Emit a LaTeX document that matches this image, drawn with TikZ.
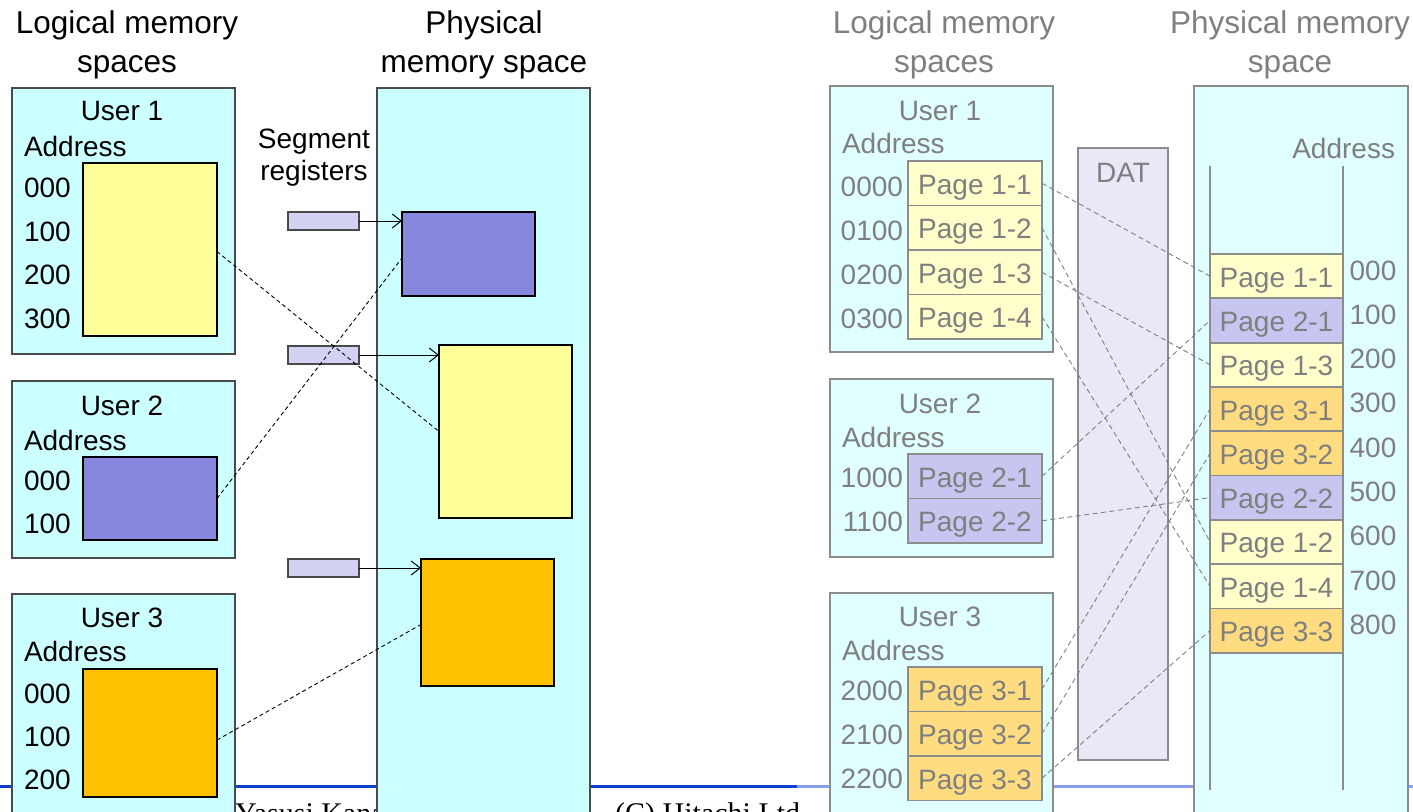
\documentclass[tikz,border=0pt]{standalone}
\usepackage{fontspec}
\setmainfont{Liberation Sans}
\newfontfamily\footfont{Liberation Serif}
\usetikzlibrary{arrows.meta,calc}
\definecolor{lcyan}{HTML}{CCFFFF}
\definecolor{lborder}{HTML}{4A4A4A}
\definecolor{lyellow}{HTML}{FFFF99}
\definecolor{lpurple}{HTML}{8787DD}
\definecolor{lorange}{HTML}{FFC000}
\definecolor{lreg}{HTML}{D2D2F2}
\definecolor{rcyan}{HTML}{E0FFFF}
\definecolor{rborder}{HTML}{8C8C8C}
\definecolor{rgray}{HTML}{7F7F7F}
\definecolor{ryellow}{HTML}{FFFFCC}
\definecolor{rpurple}{HTML}{C6C6F0}
\definecolor{rorange}{HTML}{FFDC80}
\definecolor{rdat}{HTML}{E8E8F6}
\definecolor{footblue}{HTML}{0B40CC}
\definecolor{footlight}{HTML}{86A0E6}
\tikzset{
  rectbase/.style={inner sep=0, outer sep=0, anchor=north west},
  lbig/.style={rectbase, draw=lborder, fill=lcyan, line width=1.2pt},
  lblock/.style={rectbase, draw=black, line width=2pt},
  lregbox/.style={rectbase, draw=lborder, fill=lreg, line width=1.2pt, minimum width=71, minimum height=18},
  rbig/.style={rectbase, draw=rborder, fill=rcyan, line width=1.2pt},
  rpage/.style={rectbase, draw=rborder, line width=1.8pt, minimum width=134, minimum height=44.5, font=\fontsize{28}{34}\selectfont, text=rgray, text height=22pt, text depth=0pt},
  ppage/.style={rpage, minimum width=133, minimum height=44.3},
  txt/.style={inner sep=0, outer sep=0, anchor=base, font=\fontsize{28}{34}\selectfont},
  ttl/.style={inner sep=0, outer sep=0, anchor=base, font=\fontsize{31.5}{39}\selectfont},
  rtxt/.style={txt, text=rgray},
  rttl/.style={ttl, text=rgray},
  ldash/.style={draw=black, line width=0.9pt, dash pattern=on 4pt off 3pt},
  rdash/.style={draw=rgray, line width=0.9pt, dash pattern=on 5pt off 3.5pt},
  regarrow/.style={draw=black, line width=1pt, -{Straight Barb[length=9pt,width=14pt]}}
}
\begin{document}
\begin{tikzpicture}[x=1pt,y=-1pt]
\useasboundingbox (0,0) rectangle (1413,811);
\clip (0,0) rectangle (1413,811);
% footer
\coordinate (fa) at (0,786);
\coordinate (fb) at (797,786);
\coordinate (fc) at (1413,786);
\draw[footblue, line width=3pt] (fa) -- (fb);
\draw[footlight, line width=3pt] (fb) -- (fc);
\node[inner sep=0, anchor=base west, font=\footfont\fontsize{30}{36}\selectfont] (foot1) at (235,823) {Yasusi Kanada};
\node[inner sep=0, anchor=base west, font=\footfont\fontsize{30}{36}\selectfont] (foot2) at (615,823) {(C) Hitachi Ltd.};

% ================= LEFT =================
\node[ttl] (t1a) at (127,33) {Logical memory};
\node[ttl] (t1b) at (127,72) {spaces};
\node[ttl] (t2a) at (484,33) {Physical};
\node[ttl] (t2b) at (484,72) {memory space};

\node[lbig, minimum width=223, minimum height=266] (u1) at (12,88) {};
\node[lbig, minimum width=223, minimum height=177] (u2) at (12,381) {};
\node[lbig, minimum width=223, minimum height=240] (u3) at (12,594) {};
\node[lbig, minimum width=213, minimum height=740] (ph) at (377,88) {};

\node[txt] (u1t) at (122,120) {User 1};
\node[txt, anchor=base west] (u1a) at (24,156) {Address};
\node[txt, anchor=base west] (u1n0) at (24,197) {000};
\node[txt, anchor=base west] (u1n1) at (24,241) {100};
\node[txt, anchor=base west] (u1n2) at (24,284) {200};
\node[txt, anchor=base west] (u1n3) at (24,328) {300};
\node[lblock, fill=lyellow, minimum width=134, minimum height=173] (y1) at (83,163) {};

\node[txt] (u2t) at (122,415) {User 2};
\node[txt, anchor=base west] (u2a) at (24,450) {Address};
\node[txt, anchor=base west] (u2n0) at (24,490) {000};
\node[txt, anchor=base west] (u2n1) at (24,533) {100};
\node[lblock, fill=lpurple, minimum width=134, minimum height=83] (p2) at (83,457) {};

\node[txt] (u3t) at (122,627) {User 3};
\node[txt, anchor=base west] (u3a) at (24,661) {Address};
\node[txt, anchor=base west] (u3n0) at (24,703) {000};
\node[txt, anchor=base west] (u3n1) at (24,746) {100};
\node[txt, anchor=base west] (u3n2) at (24,789) {200};
\node[lblock, fill=lorange, minimum width=134, minimum height=128] (o3) at (83,669) {};

\node[txt] (sg1) at (314,148) {Segment};
\node[txt] (sg2) at (314,180) {registers};
\node[lregbox] (r1) at (288,212) {};
\node[lregbox] (r2) at (288,346) {};
\node[lregbox] (r3) at (288,559) {};

\node[lblock, fill=lpurple, minimum width=133, minimum height=84] (pp) at (402,212) {};
\node[lblock, fill=lyellow, minimum width=133, minimum height=173] (py) at (439,345) {};
\node[lblock, fill=lorange, minimum width=133, minimum height=127] (po) at (421,559) {};

\draw[regarrow] (r1.east) -- (r1.east -| pp.west);
\draw[regarrow] (r2.east) -- (r2.east -| py.west);
\draw[regarrow] (r3.east) -- (r3.east -| po.west);

\draw[ldash] ([yshift=-2pt]y1.east) -- (py.west);
\draw[ldash] (p2.east) -- ([yshift=-4pt]pp.west);
\draw[ldash] ([yshift=-7pt]o3.east) -- ([yshift=-2pt]po.west);

% ================= RIGHT =================
\node[rttl] (t3a) at (944,33) {Logical memory};
\node[rttl] (t3b) at (944,72) {spaces};
\node[rttl] (t4a) at (1290,33) {Physical memory};
\node[rttl] (t4b) at (1290,72) {space};

\node[rbig, minimum width=223, minimum height=266] (U1) at (830,86) {};
\node[rbig, minimum width=223, minimum height=178] (U2) at (830,379) {};
\node[rbig, minimum width=223, minimum height=240] (U3) at (830,593) {};
\node[rectbase, draw=rborder, fill=rdat, line width=1.2pt, minimum width=90, minimum height=612] (dat) at (1078,148) {};
\node[rtxt] (datt) at (1123,182) {DAT};
\node[rbig, minimum width=214, minimum height=740] (PH) at (1194,86) {};

\node[rtxt] (U1t) at (940,120) {User 1};
\node[rtxt, anchor=base west] (U1a) at (842,153) {Address};
\node[rtxt, anchor=base east] (U1n0) at (903,196) {0000};
\node[rtxt, anchor=base east] (U1n1) at (903,240) {0100};
\node[rtxt, anchor=base east] (U1n2) at (903,284) {0200};
\node[rtxt, anchor=base east] (U1n3) at (903,328) {0300};
\node[rpage, fill=ryellow] (l11) at (908,161) {Page 1-1};
\node[rpage, fill=ryellow] (l12) at (908,205.5) {Page 1-2};
\node[rpage, fill=ryellow] (l13) at (908,250) {Page 1-3};
\node[rpage, fill=ryellow] (l14) at (908,294.5) {Page 1-4};

\node[rtxt] (U2t) at (940,413) {User 2};
\node[rtxt, anchor=base west] (U2a) at (842,447) {Address};
\node[rtxt, anchor=base east] (U2n0) at (903,487) {1000};
\node[rtxt, anchor=base east] (U2n1) at (903,531) {1100};
\node[rpage, fill=rpurple] (l21) at (908,454) {Page 2-1};
\node[rpage, fill=rpurple] (l22) at (908,498.5) {Page 2-2};

\node[rtxt] (U3t) at (940,626) {User 3};
\node[rtxt, anchor=base west] (U3a) at (842,660) {Address};
\node[rtxt, anchor=base east] (U3n0) at (903,700) {2000};
\node[rtxt, anchor=base east] (U3n1) at (903,744) {2100};
\node[rtxt, anchor=base east] (U3n2) at (903,788) {2200};
\node[rpage, fill=rorange] (l31) at (908,667) {Page 3-1};
\node[rpage, fill=rorange] (l32) at (908,711.5) {Page 3-2};
\node[rpage, fill=rorange] (l33) at (908,756) {Page 3-3};

\node[rtxt, anchor=base east] (PHa) at (1395,158) {Address};
\coordinate (va1) at (1210,166);
\coordinate (va2) at (1210,790);
\coordinate (vb1) at (1343,166);
\coordinate (vb2) at (1343,790);
\draw[rborder, line width=1.5pt] (va1) -- (va2);
\draw[rborder, line width=1.5pt] (vb1) -- (vb2);

\node[ppage, fill=ryellow] (q11) at (1210,254) {Page 1-1};
\node[ppage, fill=rpurple] (q21) at (1210,298.3) {Page 2-1};
\node[ppage, fill=ryellow] (q13) at (1210,342.6) {Page 1-3};
\node[ppage, fill=rorange] (q31) at (1210,386.9) {Page 3-1};
\node[ppage, fill=rorange] (q32) at (1210,431.2) {Page 3-2};
\node[ppage, fill=rpurple] (q22) at (1210,475.5) {Page 2-2};
\node[ppage, fill=ryellow] (q12) at (1210,519.8) {Page 1-2};
\node[ppage, fill=ryellow] (q14) at (1210,564.1) {Page 1-4};
\node[ppage, fill=rorange] (q33) at (1210,608.4) {Page 3-3};

\foreach \k/\lab in {0/000,1/100,2/200,3/300,4/400,5/500,6/600,7/700,8/800}{
  \node[rtxt] (pa\k) at (1373,{280+44.3*\k}) {\lab};
}

\draw[rdash] (l11.east) -- (q11.west);
\draw[rdash] (l12.east) -- (q12.west);
\draw[rdash] (l13.east) -- (q13.west);
\draw[rdash] (l14.east) -- (q14.west);
\draw[rdash] (l21.east) -- (q21.west);
\draw[rdash] (l22.east) -- (q22.west);
\draw[rdash] (l31.east) -- (q31.west);
\draw[rdash] (l32.east) -- (q32.west);
\draw[rdash] (l33.east) -- (q33.west);
\end{tikzpicture}
\end{document}
